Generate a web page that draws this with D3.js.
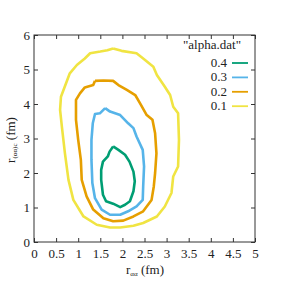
<!DOCTYPE html>
<html>
<head>
<meta charset="UTF-8">
<title>alpha.dat contours</title>
<style>
    body { margin: 0; padding: 0; background: #fff; }
    svg { display: block; font-family: "Liberation Serif", "DejaVu Serif", serif; }
</style>
</head>
<body>
<svg id="chart" width="287" height="287"></svg>
<script src="https://d3js.org/d3.v7.min.js"></script>
<script>
// contour levels and colours (gnuplot default palette)
var levels = ["0.4", "0.3", "0.2", "0.1"];
var colors = ["#009e73", "#56b4e9", "#e69f00", "#f0e442"];

// contour traces [r_aa, r_(aa)c] in fm
var c04 = [[1.79,2.77],[1.91,2.67],[2.06,2.53],[2.16,2.33],[2.25,2.04],[2.28,1.76],[2.25,1.47],[2.17,1.18],
           [2.06,1.08],[1.95,1.01],[1.79,1.11],[1.63,1.18],[1.56,1.37],[1.52,1.80],[1.52,2.09],[1.56,2.33],
           [1.67,2.48],[1.71,2.62],[1.79,2.77]];
var c03 = [[1.61,3.88],[1.72,3.78],[1.95,3.68],[2.13,3.44],[2.25,3.30],[2.32,3.06],[2.46,2.67],[2.49,2.19],
           [2.47,1.61],[2.46,1.22],[2.32,1.03],[2.13,0.89],[1.95,0.79],[1.72,0.79],[1.53,0.94],[1.38,1.27],
           [1.32,1.71],[1.30,2.38],[1.30,2.96],[1.33,3.44],[1.38,3.71],[1.49,3.73],[1.61,3.88]];
var c02 = [[1.38,4.67],[1.57,4.68],[1.79,4.67],[1.91,4.55],[2.10,4.41],[2.29,4.26],[2.40,4.02],[2.55,3.68],
           [2.68,3.54],[2.74,3.15],[2.77,2.57],[2.74,2.00],[2.71,1.61],[2.66,1.22],[2.47,0.89],[2.25,0.74],
           [2.02,0.62],[1.79,0.60],[1.57,0.69],[1.34,0.94],[1.19,1.32],[1.08,1.80],[1.06,2.38],[1.00,2.96],
           [0.95,3.54],[0.95,4.12],[1.04,4.31],[1.15,4.48],[1.34,4.55],[1.38,4.67]];
var c01 = [[1.79,5.61],[1.98,5.54],[2.32,5.47],[2.47,5.32],[2.70,5.08],[2.78,4.84],[2.96,4.50],[3.08,4.26],
           [3.15,3.92],[3.26,3.73],[3.28,2.96],[3.26,2.19],[3.15,1.90],[3.11,1.42],[2.96,1.03],[2.78,0.74],
           [2.47,0.55],[2.25,0.47],[1.95,0.42],[1.72,0.42],[1.42,0.50],[1.12,0.74],[0.89,1.22],[0.78,1.80],
           [0.70,2.57],[0.63,3.35],[0.59,3.83],[0.61,4.21],[0.74,4.65],[0.81,4.89],[0.97,5.13],[1.15,5.32],
           [1.27,5.47],[1.50,5.52],[1.66,5.56],[1.79,5.61]];
var contours = [c04, c03, c02, c01];

var xTicks = [0, 0.5, 1, 1.5, 2, 2.5, 3, 3.5, 4, 4.5, 5];
var yTicks = [0, 1, 2, 3, 4, 5, 6];

var svg = d3.select("#chart");
var mLeft = 34, mRight = 255, mTop = 35, mBottom = 242;

var x = d3.scaleLinear().domain([0, 5]).range([mLeft, mRight]);
var y = d3.scaleLinear().domain([0, 6]).range([mBottom, mTop]);

// ticks on all sides, inward
svg.append("g").attr("transform", "translate(0," + mBottom + ")")
    .call(d3.axisBottom(x).tickValues(xTicks).tickSize(-4).tickPadding(7).tickFormat(d3.format("")))
    .call(g => g.select(".domain").remove());
svg.append("g").attr("transform", "translate(0," + mTop + ")")
    .call(d3.axisTop(x).tickValues(xTicks).tickSize(-4).tickFormat(""))
    .call(g => g.select(".domain").remove());
svg.append("g").attr("transform", "translate(" + mLeft + ",0)")
    .call(d3.axisLeft(y).tickValues(yTicks).tickSize(-4).tickPadding(4).tickFormat(d3.format("d")))
    .call(g => g.select(".domain").remove());
svg.append("g").attr("transform", "translate(" + mRight + ",0)")
    .call(d3.axisRight(y).tickValues(yTicks).tickSize(-4).tickFormat(""))
    .call(g => g.select(".domain").remove());

svg.selectAll(".tick text").attr("font-size", 13).attr("fill", "#222")
    .attr("font-family", "Liberation Serif, serif");
svg.selectAll(".tick line").attr("stroke", "#333");

// border
svg.append("rect")
    .attr("x", mLeft).attr("y", mTop)
    .attr("width", mRight - mLeft).attr("height", mBottom - mTop)
    .attr("fill", "none").attr("stroke", "#333").attr("stroke-width", 1);

// contours
var line = d3.line().x(d => x(d[0])).y(d => y(d[1]));
svg.selectAll("path.contour")
    .data(contours)
    .enter().append("path")
    .attr("class", "contour")
    .attr("d", line)
    .attr("fill", "none")
    .attr("stroke", (d, i) => colors[i])
    .attr("stroke-width", 2.6)
    .attr("stroke-linejoin", "round");

// legend
svg.append("text").attr("x", 212).attr("y", 49).attr("text-anchor", "middle")
    .attr("font-size", 13).attr("fill", "#222").text("\"alpha.dat\"");
levels.forEach(function(l, i) {
    var ly = 63 + i * 14.4;
    svg.append("text").attr("x", 227).attr("y", ly + 4).attr("text-anchor", "end")
        .attr("font-size", 13).attr("fill", "#222").text(l);
    svg.append("line").attr("x1", 232).attr("x2", 248).attr("y1", ly).attr("y2", ly)
        .attr("stroke", colors[i]).attr("stroke-width", 1.8);
});

// axis labels
var xl = svg.append("text").attr("x", 145).attr("y", 274).attr("text-anchor", "middle")
    .attr("font-size", 13).attr("fill", "#222");
xl.append("tspan").text("r");
xl.append("tspan").attr("font-size", 7).attr("dy", 2).text("αα");
xl.append("tspan").attr("dy", -2).text(" (fm)");

var yl = svg.append("text").attr("transform", "translate(15,140) rotate(-90)")
    .attr("text-anchor", "middle").attr("font-size", 13).attr("fill", "#222");
yl.append("tspan").text("r");
yl.append("tspan").attr("font-size", 7).attr("dy", 2).text("(αα)c");
yl.append("tspan").attr("dy", -2).text(" (fm)");
</script>
</body>
</html>
